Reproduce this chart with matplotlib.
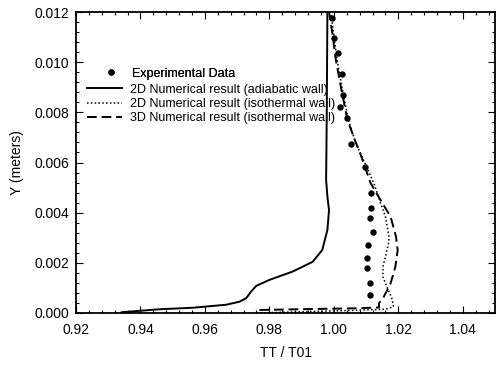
import numpy as np
import matplotlib
matplotlib.use("Agg")
import matplotlib.pyplot as plt
from matplotlib.ticker import MultipleLocator, FormatStrFormatter
from matplotlib.lines import Line2D

plt.rcParams['font.family'] = ['Liberation Sans', 'DejaVu Sans']

# experimental data (TT/T01, Y)
exp_tt = [0.9995, 1.0001, 1.0013, 1.0024, 1.0029, 1.0019, 1.0040, 1.0052, 1.0098,
          1.0114, 1.0114, 1.0112, 1.0121, 1.0106, 1.0104, 1.0104, 1.0111, 1.0111]
exp_y = [0.01176, 0.01096, 0.01036, 0.00953, 0.00869, 0.00822, 0.00776, 0.00672, 0.00583,
         0.00480, 0.00420, 0.00380, 0.00322, 0.00271, 0.00220, 0.00181, 0.00121, 0.00072]

# 2D adiabatic wall
adi_tt = [0.9340, 0.9341, 0.9460, 0.9563, 0.9666, 0.9707, 0.9728, 0.9743, 0.9759, 0.9800,
          0.9872, 0.9934, 0.9964, 0.9980, 0.9985, 0.9980, 0.9976, 0.9977, 0.9978, 0.9979, 0.9980]
adi_y = [0.0, 0.00003, 0.00015, 0.00021, 0.00033, 0.00045, 0.00059, 0.00085, 0.00108, 0.00132,
         0.00165, 0.00204, 0.00251, 0.00331, 0.00410, 0.00464, 0.00530, 0.00650, 0.00800, 0.01000, 0.01200]

# 2D isothermal wall
iso2_tt = [0.9760, 0.9900, 1.0050, 1.0160, 1.0185, 1.0182, 1.0178, 1.0166, 1.0152, 1.0153,
           1.0160, 1.0170, 1.0171, 1.0160, 1.0124, 1.0078, 1.0070, 1.0045, 1.0025, 1.0010,
           1.0000, 0.9990]
iso2_y = [0.0, 0.00005, 0.00010, 0.00015, 0.00025, 0.00050, 0.00065, 0.00100, 0.00145, 0.00190,
          0.00224, 0.00280, 0.00304, 0.00384, 0.00518, 0.00650, 0.00670, 0.00770, 0.00900, 0.01010,
          0.01110, 0.01200]

# 3D isothermal wall
iso3_tt = [0.9769, 0.9892, 1.0078, 1.0140, 1.0140, 1.0155, 1.0176, 1.0191, 1.0198, 1.0193,
           1.0176, 1.0145, 1.0114, 1.0078, 1.0068, 1.0042, 1.0022, 1.0006, 0.9996, 0.9985]
iso3_y = [0.00012, 0.00015, 0.00019, 0.00022, 0.00039, 0.00065, 0.00118, 0.00185, 0.00250, 0.00304,
          0.00384, 0.00450, 0.00518, 0.00650, 0.00680, 0.00770, 0.00900, 0.01010, 0.01110, 0.01200]

W, H = 496, 366
fig = plt.figure(figsize=(W / 100, H / 100), dpi=100)
ax = fig.add_axes([76 / W, 1 - 313 / H, (495 - 76) / W, (313 - 12) / H])

ax.plot(adi_tt, adi_y, color='black', lw=1.4, linestyle='-')
ax.plot(iso2_tt, iso2_y, color='black', lw=1.1, linestyle=(0, (1, 1.5)))
ax.plot(iso3_tt, iso3_y, color='black', lw=1.4, linestyle=(0, (5, 2.5)))
ax.plot(exp_tt, exp_y, 'o', color='black', ms=4.6, mew=0)

ax.set_xlim(0.92, 1.05)
ax.set_ylim(0.0, 0.012)
ax.xaxis.set_major_locator(MultipleLocator(0.02))
ax.xaxis.set_minor_locator(MultipleLocator(0.004))
ax.yaxis.set_major_locator(MultipleLocator(0.002))
ax.yaxis.set_minor_locator(MultipleLocator(0.0004))
ax.xaxis.set_major_formatter(FormatStrFormatter('%.2f'))
ax.yaxis.set_major_formatter(FormatStrFormatter('%.3f'))
ax.tick_params(which='both', direction='in', top=True, right=True, width=0.8, labelsize=10)
ax.tick_params(axis='x', which='major', length=5, pad=7)
ax.tick_params(axis='y', which='major', length=5, pad=5)
ax.tick_params(which='minor', length=2.5)
for s in ax.spines.values():
    s.set_linewidth(1.3)

ax.set_xlabel('TT / T01', fontsize=10, labelpad=7)
ax.set_ylabel('Y (meters)', fontsize=10, labelpad=7)

# legend: experimental row separate, then three lines
h1 = [Line2D([], [], marker='o', color='black', ms=4.6, mew=0, linestyle='none')]
leg1 = fig.legend(h1, ['Experimental Data'], loc='upper left',
                  bbox_to_anchor=(104.6 / W, 1 - 67.8 / H), frameon=False,
                  fontsize=9, borderpad=0, borderaxespad=0,
                  handlelength=1.0, handletextpad=1.16)
h2 = [Line2D([], [], color='black', lw=1.4, linestyle='-'),
      Line2D([], [], color='black', lw=1.1, linestyle=(0, (1, 1.5))),
      Line2D([], [], color='black', lw=1.4, linestyle=(0, (5, 2.5)))]
fig.legend(h2, ['2D Numerical result (adiabatic wall)',
                '2D Numerical result (isothermal wall)',
                '3D Numerical result (isothermal wall)'],
           loc='upper left', bbox_to_anchor=(87 / W, 1 - 83.5 / H), frameon=False,
           fontsize=9, borderpad=0, borderaxespad=0, labelspacing=0.2,
           handlelength=2.8, handletextpad=0.6)
fig.add_artist(leg1)

fig.savefig('out.png', dpi=100)
